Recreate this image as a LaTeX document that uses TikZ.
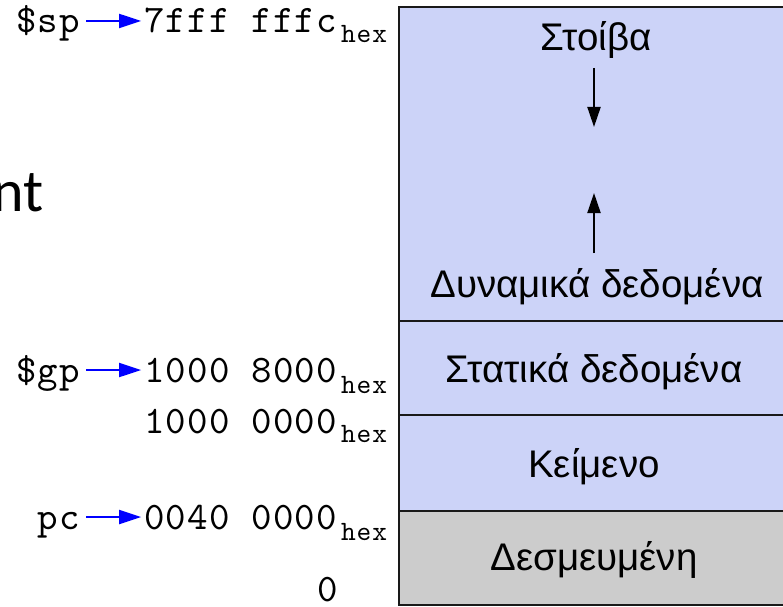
\documentclass[tikz,border=0pt]{standalone}
\usepackage{fontspec}
\newfontfamily\grkfont{Liberation Sans}
\newfontfamily\calfont{Carlito}
\newfontfamily\addrfont{lmmono10-regular.otf}[LetterSpace=3]
\usetikzlibrary{arrows.meta}
\definecolor{memblue}{RGB}{204,211,248}
\definecolor{memgray}{RGB}{204,204,204}
\definecolor{memline}{RGB}{25,25,25}
\tikzset{
  addr/.style={font=\addrfont\fontsize{39}{39}\selectfont, inner sep=0pt, anchor=base east},
  hexsub/.style={font=\addrfont\fontsize{28}{28}\selectfont, inner sep=0pt, anchor=base west},
  ptr/.style={draw=blue, line width=2pt, -{Triangle[length=22pt,width=14pt]}},
  seg/.style={draw=memline, line width=2pt, fill=memblue, minimum width=394pt, inner sep=0pt, anchor=north west},
  seglabel/.style={font=\grkfont\fontsize{38.5}{38.5}\selectfont, inner sep=0pt, anchor=base},
  growarrow/.style={line width=2pt, -{Triangle[length=20pt,width=13pt]}},
}
\begin{document}
\begin{tikzpicture}[x=1pt,y=1pt]
\useasboundingbox (0,0) rectangle (783,606);
\clip (0,0) rectangle (783,606);
% memory segments
\node[seg, minimum height=314pt] (stack) at (398,600) {};
\node[seg, minimum height=94pt] (static) at (398,286) {};
\node[seg, minimum height=96pt] (textseg) at (398,192) {};
\node[seg, fill=memgray, minimum height=94pt] (resv) at (398,96) {};
% segment labels
\node[seglabel] (lstack) at (596,555) {Στοίβα};
\node[seglabel] (ldyn) at (597,309) {Δυναμικά δεδομένα};
\node[seglabel] (lstat) at (594,224) {Στατικά δεδομένα};
\node[seglabel] (ltext) at (594,129) {Κείμενο};
\node[seglabel] (lresv) at (594,36) {Δεσμευμένη};
% growth arrows
\coordinate (dtop) at (594,538);
\coordinate (dbot) at (594,479);
\coordinate (ubot) at (594,353);
\coordinate (utop) at (594,413);
\draw[growarrow] (dtop) -- (dbot);
\draw[growarrow] (ubot) -- (utop);
% slide fragment
\node[font=\calfont\fontsize{60}{60}\selectfont, inner sep=0pt, anchor=base east] (frag) at (44,395) {nt};
% addresses
\node[addr] (sp) at (80,573) {\$sp};
\node[addr] (spv) at (337,573) {7fff fffc};
\node[hexsub] (sph) at (341,563) {hex};
\draw[ptr] ([xshift=6pt,yshift=12pt]sp.base east) -- ([xshift=-3pt,yshift=12pt]spv.base west);
\node[addr] (gp) at (80,224) {\$gp};
\node[addr] (gpv) at (337,224) {1000 8000};
\node[hexsub] (gph) at (341,213) {hex};
\draw[ptr] ([xshift=6pt,yshift=12pt]gp.base east) -- ([xshift=-3pt,yshift=12pt]gpv.base west);
\node[addr] (txv) at (337,173) {1000 0000};
\node[hexsub] (txh) at (341,164) {hex};
\node[addr] (pc) at (80,77) {pc};
\node[addr] (pcv) at (337,77) {0040 0000};
\node[hexsub] (pch) at (341,66) {hex};
\draw[ptr] ([xshift=6pt,yshift=12pt]pc.base east) -- ([xshift=-3pt,yshift=12pt]pcv.base west);
\node[addr] (zero) at (338,5) {0};
\end{tikzpicture}
\end{document}
